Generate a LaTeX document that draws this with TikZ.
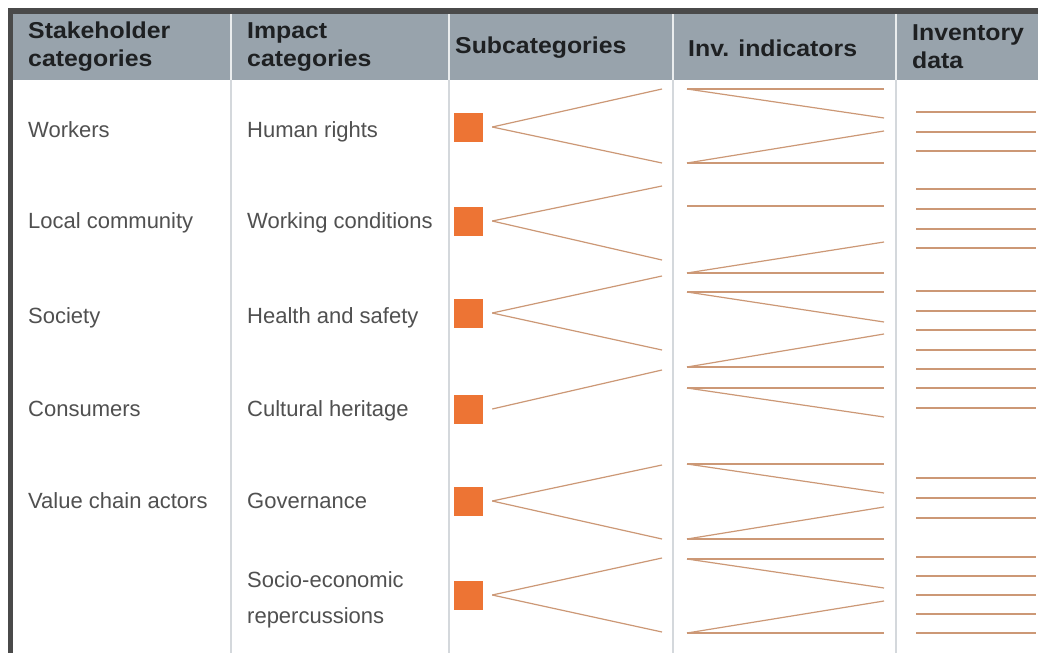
\documentclass[tikz,border=0pt]{standalone}
\usepackage{fontspec}
\setmainfont{Liberation Sans}
\newfontfamily\headfont{Liberation Sans}[FakeStretch=1.08]

\definecolor{framegray}{RGB}{74,74,74}
\definecolor{headgray}{RGB}{152,163,172}
\definecolor{headtext}{RGB}{30,32,34}
\definecolor{bodytext}{RGB}{80,80,80}
\definecolor{sepgray}{RGB}{212,216,220}
\definecolor{suborange}{RGB}{237,116,52}
\definecolor{linkorange}{RGB}{204,152,118}

\begin{document}
\begin{tikzpicture}[x=1pt,y=-1pt,
    head/.style={font=\headfont\bfseries\fontsize{23}{28}\selectfont,text=headtext,align=left,anchor=west,inner sep=0pt},
    cat/.style={font=\fontsize{22}{36}\selectfont,text=bodytext,align=left,anchor=base west,inner sep=0pt},
    sub/.style={fill=suborange,minimum size=29pt,inner sep=0pt},
    link/.style={draw=linkorange,line width=1.2pt},
    sep/.style={draw=sepgray,line width=2pt},
]
    \useasboundingbox[fill=white] (0,0) rectangle (1038,653);
    % frame and header band
    \fill[framegray] (8,8) rectangle (1038,14);
    \fill[framegray] (8,8) rectangle (13,653);
    \fill[headgray] (13,14) rectangle (1038,80);
    \foreach \x in {231,449,673,896} {
        \draw[white!80!headgray,line width=2pt] (\x,14) -- (\x,80);
        \draw[sep] (\x,80) -- (\x,653);
    }

    % column titles
    \node[head] (hstake) at (28,47) {Stakeholder\\categories};
    \node[head] (himpact) at (247,47) {Impact\\categories};
    \node[head] (hsub) at (455,48) {Subcategories};
    \node[head] (hind) at (688,48) {Inv. indicators};
    \node[head] (hinv) at (912,47) {Inventory\\data};

    % stakeholder categories
    \node[cat] (wk) at (28,137) {Workers};
    \node[cat] (lc) at (28,228) {Local community};
    \node[cat] (so) at (28,323) {Society};
    \node[cat] (co) at (28,416) {Consumers};
    \node[cat] (vc) at (28,508) {Value chain actors};

    % impact categories
    \node[cat] (hr) at (247,137) {Human rights};
    \node[cat] (wc) at (247,228) {Working conditions};
    \node[cat] (hs) at (247,323) {Health and safety};
    \node[cat] (ch) at (247,416) {Cultural heritage};
    \node[cat] (gv) at (247,508) {Governance};
    \node[cat,anchor=west] (se) at (247,600) {Socio-economic\\repercussions};

    % subcategory boxes
    \foreach \y [count=\i] in {127,221,313,409,501,595}
        \node[sub] (sq\i) at (468.5,\y) {};
    \foreach \y [count=\i] in {89,163,186,260,276,350,370,465,539,558,632}
        \coordinate (sc\i) at (662,\y);
    \foreach \s/\e in {1/1,1/2,2/3,2/4,3/5,3/6,4/7,5/8,5/9,6/10,6/11}
        \draw[link] ([xshift=9pt]sq\s.east) -- (sc\e);

    % inventory indicators
    \foreach \y [count=\i] in {89,163,206,273,292,367,388,464,539,559,633} {
        \coordinate (il\i) at (687,\y);
        \coordinate (ir\i) at (884,\y);
        \draw[link] (il\i) -- (ir\i);
    }
    \foreach \i/\y in {1/118,2/131,4/242,5/322,6/334,7/417,8/493,9/507,10/588,11/601} {
        \coordinate (id\i) at (884,\y);
        \draw[link] (il\i) -- (id\i);
    }

    % inventory data
    \foreach \y [count=\i] in {112,132,151,189,209,229,248,291,311,330,350,369,388,408,478,498,518,557,576,595,614,633} {
        \coordinate (dl\i) at (916,\y);
        \coordinate (dr\i) at (1036,\y);
        \draw[link] (dl\i) -- (dr\i);
    }
\end{tikzpicture}
\end{document}
